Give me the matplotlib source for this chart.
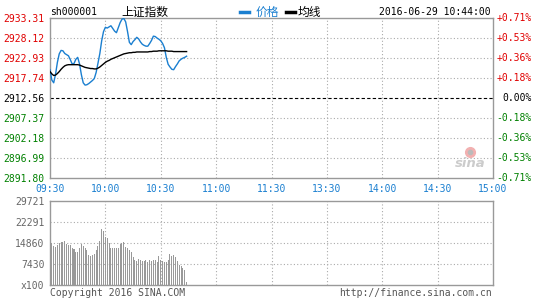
import matplotlib
matplotlib.use("Agg")
import matplotlib.pyplot as plt
from matplotlib.lines import Line2D

# minute data 09:30 .. 10:44
price = [2919.9, 2917.2, 2916.5, 2918.7, 2921.8, 2924.0, 2924.9, 2924.8, 2924.1, 2923.8,
         2923.5, 2922.5, 2921.4, 2921.5, 2922.6, 2923.1, 2921.4, 2918.6, 2916.5, 2915.9,
         2916.0, 2916.3, 2916.7, 2917.1, 2917.6, 2919.2, 2921.6, 2924.1, 2927.4, 2929.8,
         2930.9, 2930.7, 2931.0, 2931.3, 2930.6, 2929.9, 2929.5, 2930.8, 2932.1, 2933.0,
         2933.2, 2932.3, 2929.8, 2927.0, 2926.4, 2927.2, 2927.7, 2928.3, 2927.9, 2927.1,
         2926.5, 2926.2, 2926.0, 2926.0, 2926.7, 2927.5, 2928.6, 2928.5, 2928.1, 2927.8,
         2927.4, 2926.7, 2925.6, 2923.1, 2921.3, 2920.6, 2920.0, 2919.9, 2920.7, 2921.4,
         2922.2, 2922.6, 2922.9, 2923.1, 2923.4]
avg = [2919.4, 2918.8, 2918.4, 2918.5, 2918.9, 2919.4, 2920.0, 2920.5, 2920.9, 2921.1,
       2921.2, 2921.2, 2921.2, 2921.2, 2921.2, 2921.2, 2921.1, 2920.9, 2920.7, 2920.5,
       2920.4, 2920.3, 2920.2, 2920.2, 2920.1, 2920.1, 2920.3, 2920.6, 2921.0, 2921.4,
       2921.8, 2922.1, 2922.3, 2922.6, 2922.8, 2923.0, 2923.2, 2923.4, 2923.6, 2923.8,
       2924.0, 2924.1, 2924.2, 2924.3, 2924.3, 2924.4, 2924.4, 2924.5, 2924.5, 2924.5,
       2924.5, 2924.5, 2924.5, 2924.5, 2924.6, 2924.6, 2924.7, 2924.7, 2924.7, 2924.8,
       2924.8, 2924.8, 2924.8, 2924.8, 2924.7, 2924.7, 2924.7, 2924.6, 2924.6, 2924.6,
       2924.6, 2924.6, 2924.6, 2924.6, 2924.6]
volume = [16890, 14790, 13640, 13400, 13990, 14790, 15300, 15300, 15500, 14600,
          14200, 13990, 13200, 12700, 11700, 11660, 13170, 14560, 13640, 13170,
          12300, 10490, 10140, 10490, 11070, 12300, 13900, 15740, 19820, 19240,
          16900, 16670, 14800, 13170, 13000, 13170, 13170, 13170, 14600, 14790,
          15160, 13410, 12950, 12480, 11500, 9800, 9000, 8510, 9100, 8700,
          8510, 8510, 8950, 8160, 8700, 8510, 8700, 8950, 8160, 10140,
          8900, 8510, 8160, 8160, 8950, 11070, 10140, 10490, 9900, 8600,
          7000, 6600, 6180, 5300, 1170]

price_levels = [2891.80, 2896.99, 2902.18, 2907.37, 2912.56, 2917.74, 2922.93, 2928.12, 2933.31]
price_labels = ["2891.80", "2896.99", "2902.18", "2907.37", "2912.56",
                "2917.74", "2922.93", "2928.12", "2933.31"]
pct_labels = ["-0.71%", "-0.53%", "-0.36%", "-0.18%", "0.00%",
              "+0.18%", "+0.36%", "+0.53%", "+0.71%"]
time_labels = ["09:30", "10:00", "10:30", "11:00", "11:30", "13:30", "14:00", "14:30", "15:00"]
vol_levels = [0, 7430, 14860, 22291, 29721]
vol_labels = ["x100", "7430", "14860", "22291", "29721"]

BLUE = "#1a7fd0"
RED = "#e00000"
GREEN = "#008000"
GRID = "#aaaaaa"
MONO = "DejaVu Sans Mono"
CJK = ["Noto Sans CJK SC", "DejaVu Sans"]

W, H = 545, 300
fig = plt.figure(figsize=(W / 100, H / 100), dpi=100)
ax = fig.add_axes([50 / W, 1 - 178 / H, 443 / W, 160 / H])
axv = fig.add_axes([50 / W, 1 - 285 / H, 443 / W, 84 / H])

slots = list(range(0, 241, 30))
xs = list(range(len(price)))

for a in (ax, axv):
    a.set_xlim(0, 240)
    for s in a.spines.values():
        s.set_color("#999999")
        s.set_linewidth(1.0)
    a.tick_params(length=0)

# price panel
ax.set_ylim(price_levels[0], price_levels[-1])
ax.set_yticks(price_levels)
ax.set_yticklabels(price_labels, fontfamily=MONO, fontsize=7)
ax.tick_params(axis="y", pad=4)
for i, t in enumerate(ax.get_yticklabels()):
    t.set_color(RED if i > 4 else (GREEN if i < 4 else "black"))
ax.set_xticks(slots)
ax.set_xticklabels(time_labels, fontfamily=MONO, fontsize=7, color=BLUE)
ax.tick_params(axis="x", pad=4)

for lv in price_levels[1:-1]:
    if lv == price_levels[4]:
        ax.axhline(lv, color="black", lw=0.8, ls=(0, (3, 2)), zorder=1)
    else:
        ax.axhline(lv, color=GRID, lw=0.8, ls=(0, (1, 2)), zorder=1)
for s in slots[1:-1]:
    ax.axvline(s, color=GRID, lw=0.8, ls=(0, (1, 2)), zorder=1)

ax.plot(xs, price, color=BLUE, lw=1.0, zorder=3)
ax.plot(xs, avg, color="black", lw=1.0, zorder=3)

tr = ax.get_yaxis_transform()
for i, (lv, lb) in enumerate(zip(price_levels, pct_labels)):
    c = RED if i > 4 else (GREEN if i < 4 else "black")
    ax.text(1 + 39 / 443, lv, lb, transform=tr, ha="right", va="center",
            fontfamily=MONO, fontsize=7, color=c, clip_on=False)

# sina watermark
ax.text(0.948, 0.09, "sina", transform=ax.transAxes, ha="center", va="center",
        fontsize=9.5, fontstyle="italic", fontweight="bold", color="#cccccc")
ax.plot([0.948], [0.165], transform=ax.transAxes, marker="o", ms=7,
        mfc="#f2b0b0", mec="#f2b0b0", zorder=2)
ax.plot([0.948], [0.165], transform=ax.transAxes, marker="o", ms=3,
        mfc="#bbbbbb", mec="#bbbbbb", zorder=2)

# volume panel
axv.set_ylim(0, vol_levels[-1])
axv.set_yticks(vol_levels)
axv.set_yticklabels(vol_labels, fontfamily=MONO, fontsize=7, color="#666666")
axv.tick_params(axis="y", pad=4)
axv.set_xticks([])
for lv in vol_levels[1:-1]:
    axv.axhline(lv, color=GRID, lw=0.8, ls=(0, (1, 2)), zorder=1)
for s in slots[1:-1]:
    axv.axvline(s, color=GRID, lw=0.8, ls=(0, (1, 2)), zorder=1)
axv.bar(xs, volume, width=0.55, color="#999999", zorder=2)

# header
hy = 1 - 12 / H
fig.text(50 / W, hy, "sh000001", fontfamily=MONO, fontsize=7, va="center")
fig.text(121 / W, hy, "上证指数", family=CJK, fontsize=8.5, va="center")
fig.add_artist(Line2D([240 / W, 249 / W], [hy, hy], color=BLUE, lw=2.5))
fig.text(256 / W, hy, "价格", family=CJK, fontsize=8.5, va="center", color=BLUE)
fig.add_artist(Line2D([286 / W, 295 / W], [hy, hy], color="black", lw=2.5))
fig.text(298 / W, hy, "均线", family=CJK, fontsize=8.5, va="center")
fig.text(491 / W, hy, "2016-06-29 10:44:00", fontfamily=MONO, fontsize=7,
         va="center", ha="right")

# footer
fy = 1 - 293 / H
fig.text(50 / W, fy, "Copyright 2016 SINA.COM", fontfamily=MONO, fontsize=7,
         va="center", color="#555555")
fig.text(492 / W, fy, "http://finance.sina.com.cn", fontfamily=MONO, fontsize=7,
         va="center", ha="right", color="#555555")

fig.savefig("out.png", dpi=100)
